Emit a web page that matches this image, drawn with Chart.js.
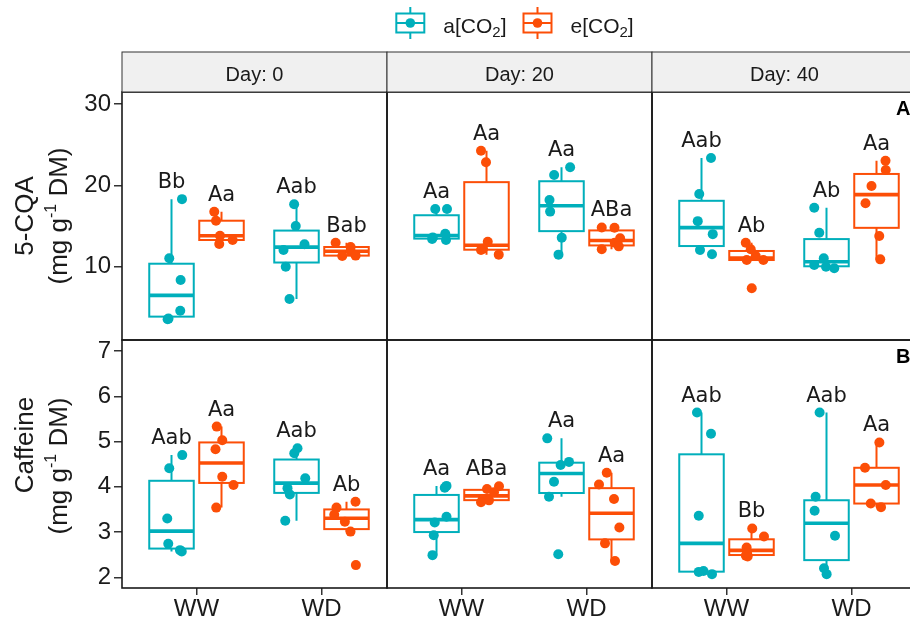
<!DOCTYPE html>
<html>
<head>
<meta charset="utf-8">
<script src="https://cdn.jsdelivr.net/npm/chart.js@4.4.1/dist/chart.umd.min.js"></script>
<style>
  html, body { margin: 0; padding: 0; background: #fff; overflow: hidden; width: 910px; height: 623px; }
  #wrap { position: relative; width: 910px; height: 623px; overflow: hidden; }
  #wrap canvas { position: absolute; left: 0; top: 0; }
</style>
</head>
<body>
<div id="wrap"></div>
<script>
// ---- data -------------------------------------------------------------
const days = ['Day: 0', 'Day: 20', 'Day: 40'];
const treatments = ['WW', 'WD'];
const seriesLabels = [['a[CO', '2', ']'], ['e[CO', '2', ']']];
const seriesColors = ['#00AFBB', '#FC4E07'];
const rowTags = ['A', 'B'];

// 5-CQA (mg g-1 DM) replicates: [day][treatment]
const cqaAmbient = [
  [[18.3, 11.03, 8.37, 4.59, 3.53, 3.62], [17.67, 15.0, 12.75, 12.05, 10.0, 6.03]],
  [[17.1, 17.08, 14.05, 13.6, 13.28, 13.4], [22.22, 21.27, 18.2, 16.77, 13.57, 11.48]],
  [[23.36, 18.93, 15.6, 14.0, 12.05, 11.52], [17.25, 14.18, 11.03, 10.2, 10.0, 9.8]]
];
const cqaElevated = [
  [[16.76, 15.65, 13.81, 12.79, 13.28], [12.95, 12.42, 11.9, 11.32, 11.36]],
  [[24.26, 22.83, 13.07, 12.2, 12.05, 11.48], [14.82, 14.78, 13.49, 12.95, 12.5, 12.14]],
  [[12.95, 12.14, 10.82, 10.82, 7.34, 11.3], [23.03, 21.89, 19.92, 17.79, 13.77, 10.9]]
];
// Caffeine (mg g-1 DM) replicates: [day][treatment]
const caffeineAmbient = [
  [[4.70, 4.41, 3.30, 2.74, 2.57, 2.60], [4.85, 4.74, 4.19, 3.97, 3.83, 3.25]],
  [[4.02, 3.98, 3.34, 3.21, 2.93, 2.49], [5.07, 4.55, 4.48, 4.11, 3.78, 2.51]],
  [[5.64, 5.17, 3.36, 2.14, 2.12, 2.07], [5.64, 3.78, 3.47, 2.92, 2.20, 2.07]]
];
const caffeineElevated = [
  [[5.33, 5.03, 4.83, 4.22, 4.04, 3.54], [3.67, 3.54, 3.38, 3.23, 3.01, 2.27]],
  [[4.01, 3.95, 3.88, 3.72, 3.70, 3.66], [4.31, 4.05, 3.73, 3.10, 2.75, 2.36]],
  [[3.08, 2.90, 2.66, 2.46, 2.48, 2.53], [4.98, 4.42, 4.04, 3.63, 3.55]]
];

// horizontal jitter of each replicate (category units)
const cqaAmbientJitter = [
  [[0.084, -0.018, 0.073, 0.07, -0.031, -0.024], [-0.019, -0.006, 0.064, -0.104, -0.086, -0.056]],
  [[-0.01, 0.084, 0.07, -0.03, 0.076, -0.035], [0.069, -0.059, -0.096, -0.091, 0.002, -0.024]],
  [[0.076, -0.018, -0.03, 0.09, -0.012, 0.084], [-0.098, -0.058, -0.022, -0.098, -0.004, 0.062]]
];
const cqaElevatedJitter = [
  [[-0.058, -0.044, -0.012, -0.018, 0.089], [-0.087, 0.033, 0.033, -0.034, 0.073]],
  [[-0.044, -0.004, 0.01, -0.028, -0.044, 0.098], [-0.078, 0.024, 0.069, 0.026, 0.058, -0.078]],
  [[-0.046, -0.006, -0.038, 0.095, 0.002, 0.034], [0.072, 0.074, -0.04, -0.088, 0.022, 0.03]]
];
const caffeineAmbientJitter = [
  [[0.086, -0.018, -0.034, -0.026, 0.082, 0.068], [0.008, -0.018, 0.07, -0.072, -0.053, -0.09]],
  [[0.08, 0.066, 0.08, -0.014, -0.022, -0.032], [-0.114, 0.06, -0.007, -0.06, -0.1, -0.026]],
  [[-0.036, 0.076, -0.022, 0.016, -0.022, 0.084], [-0.055, -0.087, -0.095, 0.068, -0.02, 0.001]]
];
const caffeineElevatedJitter = [
  [[-0.038, 0.006, -0.048, 0.006, 0.096, -0.042], [0.072, -0.08, -0.098, -0.013, 0.032, 0.075]],
  [[0.1, 0.004, 0.06, -0.03, 0.02, -0.044], [-0.038, -0.1, 0.02, 0.063, -0.052, 0.028]],
  [[0.006, 0.1, -0.039, -0.031, -0.045, -0.035], [0.023, -0.092, 0.074, -0.046, 0.036]]
];

// significance letters: [day][treatment]
const cqaAmbientLetters = [['Bb', 'Aab'], ['Aa', 'Aa'], ['Aab', 'Ab']];
const cqaElevatedLetters = [['Aa', 'Bab'], ['Aa', 'ABa'], ['Ab', 'Aa']];
const caffeineAmbientLetters = [['Aab', 'Aab'], ['Aa', 'Aa'], ['Aab', 'Aab']];
const caffeineElevatedLetters = [['Aa', 'Ab'], ['ABa', 'Aa'], ['Bb', 'Aa']];

// axes
const cqaTicks = [10, 20, 30];
const caffeineTicks = [2, 3, 4, 5, 6, 7];
const cqaLimits = [0.99, 31.47];
const caffeineLimits = [1.764, 7.243];
const xLimits = [0.404, 2.524];

// ---- layout -----------------------------------------------------------
const CW = 930, CH = 623;
const PANEL_LEFT = [122, 387, 652];
const PANEL_W = 265;
const ROW_TOP = [92, 340];
const ROW_H = 248;
const DODGE = 0.2, BOX_HALF = 0.178;
const AXIS_FONT = '"Liberation Sans", Arial, Helvetica, sans-serif';
const LETTER_FONT = '"DejaVu Sans", Verdana, sans-serif';
const INK = '#1a1a1a';

const rows = [
  { ambient: cqaAmbient, elevated: cqaElevated, jA: cqaAmbientJitter, jE: cqaElevatedJitter,
    lA: cqaAmbientLetters, lE: cqaElevatedLetters, ticks: cqaTicks, limits: cqaLimits,
    title: ['5-CQA', '(mg g', '-1', ' DM)'], titleShift: [0, 0] },
  { ambient: caffeineAmbient, elevated: caffeineElevated, jA: caffeineAmbientJitter, jE: caffeineElevatedJitter,
    lA: caffeineAmbientLetters, lE: caffeineElevatedLetters, ticks: caffeineTicks, limits: caffeineLimits,
    title: ['Caffeine', '(mg g', '-1', ' DM)'], titleShift: [-19, 2] }
];

// ---- boxplot statistics (quantile type 7, 1.5 IQR whiskers) -----------
function quantile(s, p) {
  const h = (s.length - 1) * p, lo = Math.floor(h);
  const hi = Math.min(lo + 1, s.length - 1);
  return s[lo] + (h - lo) * (s[hi] - s[lo]);
}
function boxStats(values) {
  const s = [...values].sort((a, b) => a - b);
  const q1 = quantile(s, 0.25), med = quantile(s, 0.5), q3 = quantile(s, 0.75);
  const iqr = q3 - q1;
  const inside = s.filter(v => v >= q1 - 1.5 * iqr && v <= q3 + 1.5 * iqr);
  return { q1, med, q3, lo: Math.min(...inside), hi: Math.max(...inside), max: s[s.length - 1] };
}

// ---- drawing helpers --------------------------------------------------
function drawBoxes(chart, groups) {
  const { ctx, scales: { x, y } } = chart;
  groups.forEach(g => {
    const st = boxStats(g.values);
    const xl = x.getPixelForValue(g.center - BOX_HALF);
    const xr = x.getPixelForValue(g.center + BOX_HALF);
    const xm = x.getPixelForValue(g.center);
    const yq1 = y.getPixelForValue(st.q1), yq3 = y.getPixelForValue(st.q3);
    const ymed = y.getPixelForValue(st.med);
    ctx.save();
    ctx.strokeStyle = g.color;
    ctx.lineWidth = 2;
    ctx.beginPath();
    ctx.moveTo(xm, y.getPixelForValue(st.hi)); ctx.lineTo(xm, yq3);
    ctx.moveTo(xm, yq1); ctx.lineTo(xm, y.getPixelForValue(st.lo));
    ctx.stroke();
    ctx.fillStyle = '#ffffff';
    ctx.fillRect(xl, yq3, xr - xl, yq1 - yq3);
    ctx.strokeRect(xl, yq3, xr - xl, yq1 - yq3);
    ctx.lineWidth = 3.6;
    ctx.beginPath(); ctx.moveTo(xl, ymed); ctx.lineTo(xr, ymed); ctx.stroke();
    ctx.restore();
  });
}

function drawLetters(chart, groups) {
  const { ctx, scales: { x, y } } = chart;
  ctx.save();
  ctx.font = '21px ' + LETTER_FONT;
  ctx.fillStyle = INK;
  ctx.textAlign = 'center';
  ctx.textBaseline = 'alphabetic';
  groups.forEach(g => {
    const st = boxStats(g.values);
    ctx.fillText(g.letter, x.getPixelForValue(g.center), y.getPixelForValue(st.max) - 11);
  });
  ctx.restore();
}

function drawBorder(chart) {
  const { ctx, chartArea: a } = chart;
  ctx.save();
  ctx.strokeStyle = INK;
  ctx.lineWidth = 1.6;
  ctx.strokeRect(a.left, a.top, a.right - a.left, a.bottom - a.top);
  ctx.restore();
}

function drawStrip(chart, label) {
  const { ctx, chartArea: a } = chart;
  ctx.save();
  ctx.fillStyle = '#f0f0f0';
  ctx.fillRect(a.left, 52, a.right - a.left, a.top - 52);
  ctx.strokeStyle = '#333333';
  ctx.lineWidth = 1;
  ctx.strokeRect(a.left, 52, a.right - a.left, a.top - 52);
  ctx.fillStyle = INK;
  ctx.font = '20px ' + AXIS_FONT;
  ctx.textAlign = 'center';
  ctx.textBaseline = 'alphabetic';
  ctx.fillText(label, (a.left + a.right) / 2, 81);
  ctx.restore();
}

function drawYTitle(chart, row) {
  const { ctx, chartArea: a } = chart;
  const t = rows[row].title;
  const cy = (a.top + a.bottom) / 2;
  const big = '26px ' + AXIS_FONT, small = '16px ' + AXIS_FONT;
  ctx.save();
  ctx.fillStyle = INK;
  ctx.textBaseline = 'alphabetic';
  // first line
  ctx.save();
  ctx.translate(33, cy + rows[row].titleShift[0]);
  ctx.rotate(-Math.PI / 2);
  ctx.font = big; ctx.textAlign = 'center';
  ctx.fillText(t[0], 0, 0);
  ctx.restore();
  // second line with superscript
  ctx.save();
  ctx.translate(67, cy + rows[row].titleShift[1]);
  ctx.rotate(-Math.PI / 2);
  ctx.textAlign = 'left';
  ctx.font = big; const w1 = ctx.measureText(t[1]).width, w3 = ctx.measureText(t[3]).width;
  ctx.font = small; const w2 = ctx.measureText(t[2]).width;
  let px = -(w1 + w2 + w3) / 2;
  ctx.font = big; ctx.fillText(t[1], px, 0); px += w1;
  ctx.font = small; ctx.fillText(t[2], px, -11); px += w2;
  ctx.font = big; ctx.fillText(t[3], px, 0);
  ctx.restore();
  ctx.restore();
}

function drawLegend(chart) {
  const ctx = chart.ctx;
  const big = '21px ' + AXIS_FONT, small = '15px ' + AXIS_FONT;
  const keyW = 28, keyGap = 19, itemGap = 17;
  const widths = seriesLabels.map(p => {
    ctx.font = big; const a = ctx.measureText(p[0]).width + ctx.measureText(p[2]).width;
    ctx.font = small; return a + ctx.measureText(p[1]).width;
  });
  const total = widths.reduce((s, w) => s + keyW + keyGap + w, 0) + itemGap;
  let x0 = 515 - total / 2;
  ctx.save();
  seriesLabels.forEach((p, i) => {
    const c = seriesColors[i], xm = x0 + keyW / 2;
    ctx.strokeStyle = c; ctx.lineWidth = 2;
    ctx.beginPath();
    ctx.moveTo(xm, 7); ctx.lineTo(xm, 13.5);
    ctx.moveTo(xm, 32.5); ctx.lineTo(xm, 39);
    ctx.stroke();
    ctx.fillStyle = '#fff';
    ctx.fillRect(x0, 13.5, keyW, 19);
    ctx.strokeRect(x0, 13.5, keyW, 19);
    ctx.beginPath(); ctx.moveTo(x0, 23); ctx.lineTo(x0 + keyW, 23); ctx.stroke();
    ctx.fillStyle = c;
    ctx.beginPath(); ctx.arc(xm, 23, 4.8, 0, Math.PI * 2); ctx.fill();
    // label with subscript
    let tx = x0 + keyW + keyGap;
    ctx.fillStyle = INK; ctx.textAlign = 'left'; ctx.textBaseline = 'alphabetic';
    ctx.font = big; ctx.fillText(p[0], tx, 33); tx += ctx.measureText(p[0]).width;
    ctx.font = small; ctx.fillText(p[1], tx, 37); tx += ctx.measureText(p[1]).width;
    ctx.font = big; ctx.fillText(p[2], tx, 33);
    x0 += keyW + keyGap + widths[i] + itemGap;
  });
  ctx.restore();
}

function drawTag(chart, tag) {
  const { ctx, chartArea: a } = chart;
  ctx.save();
  ctx.fillStyle = '#000';
  ctx.font = 'bold 20px ' + AXIS_FONT;
  ctx.textAlign = 'left';
  ctx.textBaseline = 'alphabetic';
  ctx.fillText(tag, a.left + 244, a.top + 23);
  ctx.restore();
}

const decorPlugin = {
  id: 'panelDecor',
  beforeDatasetsDraw(chart, args, opts) { drawBoxes(chart, opts.groups); },
  afterDatasetsDraw(chart, args, opts) {
    drawLetters(chart, opts.groups);
    drawBorder(chart);
    if (opts.row === 0) drawStrip(chart, days[opts.col]);
    if (opts.col === 0) drawYTitle(chart, opts.row);
    if (opts.col === 2) drawTag(chart, rowTags[opts.row]);
    if (opts.row === 0 && opts.col === 0) drawLegend(chart);
  }
};

// ---- build the six panels ---------------------------------------------
const wrap = document.getElementById('wrap');
for (let r = 0; r < 2; r++) {
  for (let c = 0; c < 3; c++) {
    const R = rows[r];
    const groups = [];
    const datasets = [0, 1].map(s => {
      const vals = s === 0 ? R.ambient[c] : R.elevated[c];
      const jit = s === 0 ? R.jA[c] : R.jE[c];
      const lets = s === 0 ? R.lA[c] : R.lE[c];
      const pts = [];
      treatments.forEach((t, ti) => {
        const center = ti + 1 + (s === 0 ? -DODGE : DODGE);
        groups.push({ center, values: vals[ti], color: seriesColors[s], letter: lets[ti] });
        vals[ti].forEach((v, k) => pts.push({ x: center + jit[ti][k], y: v }));
      });
      return {
        label: seriesLabels[s].join(''),
        data: pts,
        backgroundColor: seriesColors[s],
        borderColor: seriesColors[s],
        borderWidth: 0,
        pointRadius: 5,
        pointHoverRadius: 5
      };
    });

    const canvas = document.createElement('canvas');
    canvas.width = CW; canvas.height = CH;
    canvas.style.width = CW + 'px'; canvas.style.height = CH + 'px';
    wrap.appendChild(canvas);

    const showX = r === 1, showY = c === 0;
    new Chart(canvas, {
      type: 'scatter',
      data: { datasets },
      plugins: [decorPlugin],
      options: {
        responsive: false,
        animation: false,
        events: [],
        devicePixelRatio: 1,
        layout: {
          padding: {
            left: showY ? 75 : PANEL_LEFT[c],
            right: CW - (PANEL_LEFT[c] + PANEL_W),
            top: ROW_TOP[r],
            bottom: showX ? 0 : CH - (ROW_TOP[0] + ROW_H)
          }
        },
        plugins: {
          legend: { display: false },
          tooltip: { enabled: false },
          panelDecor: { row: r, col: c, groups }
        },
        scales: {
          x: {
            type: 'linear',
            min: xLimits[0], max: xLimits[1],
            display: showX,
            afterFit: s => { s.height = showX ? 35 : 0; },
            afterBuildTicks: s => { s.ticks = treatments.map((t, i) => ({ value: i + 1 })); },
            grid: { drawOnChartArea: false, drawTicks: true, tickLength: 7, color: '#333', lineWidth: 1.5 },
            border: { display: false },
            ticks: {
              padding: 0,
              color: INK,
              font: { family: AXIS_FONT, size: 24 },
              maxRotation: 0,
              callback: v => treatments[Math.round(v) - 1]
            }
          },
          y: {
            type: 'linear',
            min: R.limits[0], max: R.limits[1],
            display: showY,
            afterFit: s => { s.width = showY ? 47 : 0; },
            afterBuildTicks: s => { s.ticks = R.ticks.map(v => ({ value: v })); },
            grid: { drawOnChartArea: false, drawTicks: true, tickLength: 8, color: '#333', lineWidth: 1.5 },
            border: { display: false },
            ticks: {
              padding: 3,
              color: INK,
              font: { family: AXIS_FONT, size: 24 },
              callback: v => String(v)
            }
          }
        }
      }
    });
  }
}
</script>
</body>
</html>
